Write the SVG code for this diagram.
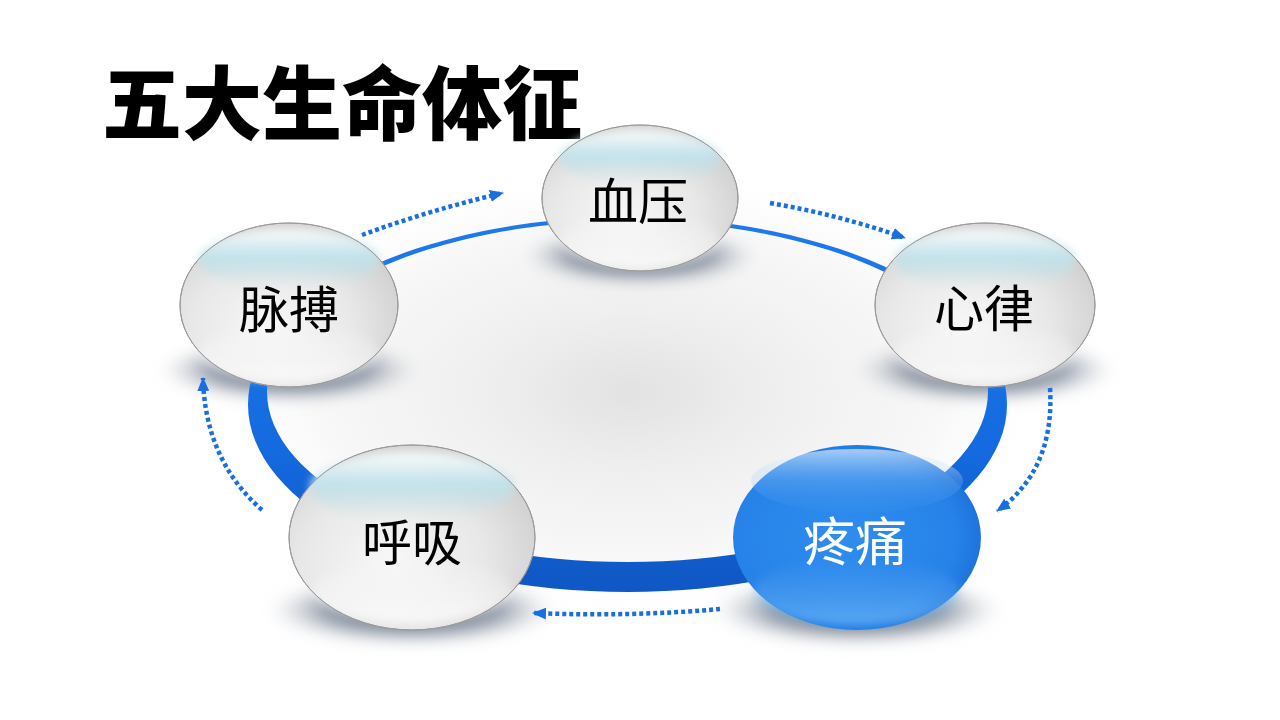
<svg xmlns="http://www.w3.org/2000/svg" width="1280" height="720" viewBox="0 0 1280 720">
<style>
.lbl{font-family:"Noto Sans CJK SC","Noto Sans",sans-serif;font-size:50px;fill:#000;text-anchor:middle;dominant-baseline:central}
.title{font-family:"Noto Sans CJK SC","Noto Sans",sans-serif;font-size:80px;font-weight:900;fill:#000}
.dot{fill:none;stroke:#1a6fe0;stroke-width:4.5;stroke-dasharray:4 3;marker-end:url(#ah)}
.nodeStroke{stroke:#9a9a9a;stroke-width:1}
.shadow{fill:url(#shg);filter:url(#blur)}
</style>
<defs>
<radialGradient id="floor" cx="0.5" cy="0.5" r="0.5">
<stop offset="0" stop-color="#e2e2e2"/>
<stop offset="0.35" stop-color="#efefef"/>
<stop offset="0.75" stop-color="#f8f8f8"/>
<stop offset="1" stop-color="#ffffff" stop-opacity="0"/>
</radialGradient>
<linearGradient id="ringg" x1="0" y1="0" x2="0" y2="1">
<stop offset="0" stop-color="#1e7aec"/>
<stop offset="0.6" stop-color="#146be0"/>
<stop offset="1" stop-color="#0f57c4"/>
</linearGradient>
<radialGradient id="shg" cx="0.5" cy="0.5" r="0.5">
<stop offset="0" stop-color="#4c5868" stop-opacity="1"/>
<stop offset="0.6" stop-color="#7a8596" stop-opacity="0.8"/>
<stop offset="1" stop-color="#c8ccd2" stop-opacity="0"/>
</radialGradient>
<filter id="blur" x="-30%" y="-60%" width="160%" height="220%"><feGaussianBlur stdDeviation="7"/></filter>
<filter id="soft" x="-20%" y="-40%" width="140%" height="180%"><feGaussianBlur stdDeviation="4"/></filter>
<radialGradient id="wbody" cx="0.42" cy="0.62" r="0.62">
<stop offset="0" stop-color="#f7f7f7"/>
<stop offset="0.6" stop-color="#e8e8e8"/>
<stop offset="1" stop-color="#d2d2d2"/>
</radialGradient>
<linearGradient id="wlow" x1="0" y1="0" x2="0" y2="1">
<stop offset="0" stop-color="#ffffff" stop-opacity="0"/>
<stop offset="1" stop-color="#ffffff" stop-opacity="0.7"/>
</linearGradient>
<linearGradient id="cyan" x1="0" y1="0" x2="0" y2="1">
<stop offset="0" stop-color="#ffffff" stop-opacity="0.9"/>
<stop offset="0.45" stop-color="#bfe2ec" stop-opacity="0.95"/>
<stop offset="0.75" stop-color="#c6e0e6" stop-opacity="0.5"/>
<stop offset="1" stop-color="#e2e2e2" stop-opacity="0"/>
</linearGradient>
<radialGradient id="bbody" cx="0.45" cy="0.5" r="0.6">
<stop offset="0" stop-color="#2f8dee"/>
<stop offset="0.75" stop-color="#2682e8"/>
<stop offset="1" stop-color="#1a6cd6"/>
</radialGradient>
<linearGradient id="btop" x1="0" y1="0" x2="0" y2="1">
<stop offset="0" stop-color="#ffffff" stop-opacity="0.6"/>
<stop offset="0.5" stop-color="#9fcdf8" stop-opacity="0.25"/>
<stop offset="1" stop-color="#5aa6f2" stop-opacity="0.05"/>
</linearGradient>
<linearGradient id="bbot" x1="0" y1="0" x2="0" y2="1">
<stop offset="0" stop-color="#6db5f7" stop-opacity="0"/>
<stop offset="1" stop-color="#7cc0fa" stop-opacity="0.6"/>
</linearGradient>
<marker id="ah" viewBox="0 0 14 12" refX="13" refY="6" markerWidth="14" markerHeight="12" markerUnits="userSpaceOnUse" orient="auto">
<path d="M0,0 L14,6 L0,12 Z" fill="#1a6fe0" stroke="none"/>
</marker>
</defs>

<rect width="1280" height="720" fill="#ffffff"/>
<ellipse cx="630" cy="392" rx="420" ry="225" fill="url(#floor)"/>

<text class="title" x="102" y="98" dominant-baseline="central">五大生命体征</text>

<g id="shadows">
<ellipse class="shadow" cx="640" cy="256" rx="118" ry="30"/>
<ellipse class="shadow" cx="289" cy="370" rx="130" ry="33"/>
<ellipse class="shadow" cx="985" cy="370" rx="130" ry="33"/>
<ellipse class="shadow" cx="412" cy="610" rx="145" ry="36"/>
<ellipse class="shadow" cx="857" cy="610" rx="145" ry="36"/>
</g>

<g id="ring">
<path fill="url(#ringg)" fill-rule="evenodd" d="M248,404.5 a379.5,187.5 0 1,0 759,0 a379.5,187.5 0 1,0 -759,0 Z M267,391.5 a360.5,170.5 0 1,0 721,0 a360.5,170.5 0 1,0 -721,0 Z"/>
</g>

<g id="node-xueya">
<ellipse class="nodeStroke" cx="640" cy="198" rx="98" ry="73" fill="url(#wbody)"/>
<ellipse cx="640" cy="240" rx="80" ry="28" fill="url(#wlow)" filter="url(#soft)"/>
<ellipse cx="640" cy="158" rx="80" ry="28" fill="url(#cyan)" filter="url(#soft)"/>
<ellipse cx="640" cy="198" rx="98" ry="73" fill="none" class="nodeStroke"/>
<text class="lbl" x="638" y="198">血压</text>
</g>

<g id="node-maibo">
<ellipse class="nodeStroke" cx="289" cy="305" rx="109" ry="82" fill="url(#wbody)"/>
<ellipse cx="289" cy="352" rx="90" ry="30" fill="url(#wlow)" filter="url(#soft)"/>
<ellipse cx="289" cy="260" rx="90" ry="31" fill="url(#cyan)" filter="url(#soft)"/>
<ellipse cx="289" cy="305" rx="109" ry="82" fill="none" class="nodeStroke"/>
<text class="lbl" x="289" y="306">脉搏</text>
</g>

<g id="node-xinlv">
<ellipse class="nodeStroke" cx="985" cy="305" rx="110" ry="82" fill="url(#wbody)"/>
<ellipse cx="985" cy="352" rx="90" ry="30" fill="url(#wlow)" filter="url(#soft)"/>
<ellipse cx="985" cy="260" rx="90" ry="31" fill="url(#cyan)" filter="url(#soft)"/>
<ellipse cx="985" cy="305" rx="110" ry="82" fill="none" class="nodeStroke"/>
<text class="lbl" x="984" y="305">心律</text>
</g>

<g id="node-huxi">
<ellipse class="nodeStroke" cx="412" cy="537.5" rx="123" ry="92.5" fill="url(#wbody)"/>
<ellipse cx="412" cy="590" rx="100" ry="32" fill="url(#wlow)" filter="url(#soft)"/>
<ellipse cx="412" cy="487" rx="102" ry="35" fill="url(#cyan)" filter="url(#soft)"/>
<ellipse cx="412" cy="537.5" rx="123" ry="92.5" fill="none" class="nodeStroke"/>
<text class="lbl" x="412" y="539">呼吸</text>
</g>

<g id="node-tengtong">
<ellipse cx="857" cy="537.5" rx="124" ry="92.5" fill="url(#bbody)"/>
<ellipse cx="857" cy="592" rx="104" ry="33" fill="url(#bbot)" filter="url(#soft)"/>
<ellipse cx="857" cy="481" rx="106" ry="32" fill="url(#btop)"/>
<text class="lbl" x="855" y="538" style="fill:#ffffff;font-size:52px">疼痛</text>
</g>

<g id="connectors">
<path class="dot" d="M362,235 Q430,210 503,193"/>
<path class="dot" d="M770,203 Q840,215 905,238"/>
<path class="dot" d="M1050,388 Q1055,470 997,511"/>
<path class="dot" d="M720,609 Q630,617 533,613"/>
<path class="dot" d="M262,510 Q205,460 203,378"/>
</g>
</svg>
